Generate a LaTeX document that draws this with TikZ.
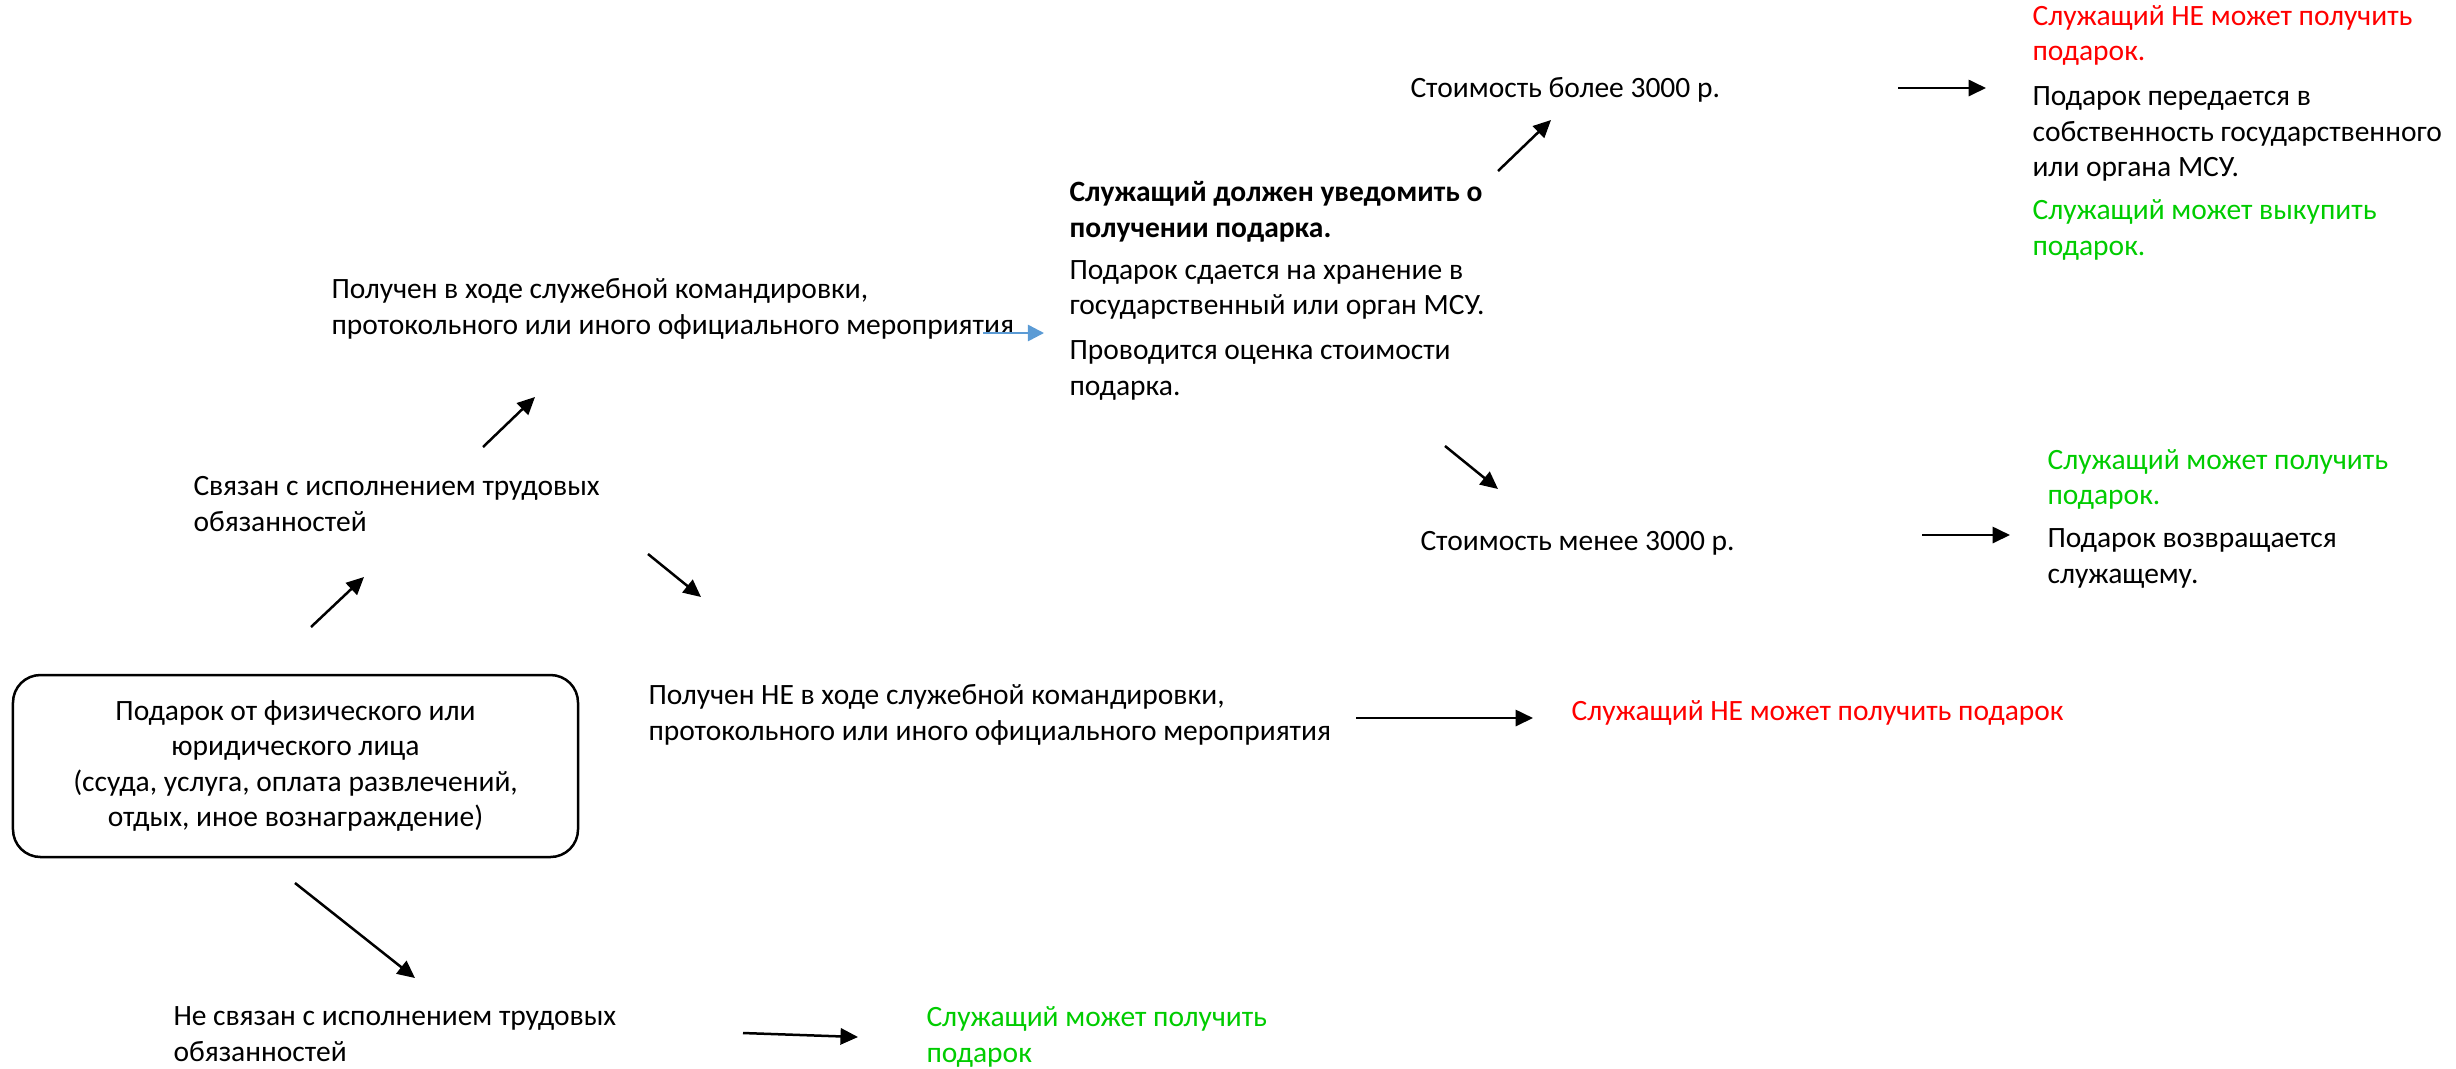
\documentclass[tikz,border=0pt]{standalone}
\usepackage{fontspec}
\setmainfont{Carlito}
\usetikzlibrary{arrows.meta}
\definecolor{redtxt}{RGB}{255,0,0}
\definecolor{greentxt}{RGB}{0,204,0}
\definecolor{bluearr}{RGB}{91,155,213}
\begin{document}
\begin{tikzpicture}[x=0.4pt,y=-0.4pt,
  txt/.style={anchor=base west, inner sep=0pt, align=left, font=\fontsize{11.8pt}{14.2pt}\selectfont},
  arr/.style={line width=1pt, -{Triangle[length=7pt,width=6.5pt]}},
  barr/.style={line width=1pt, draw=bluearr, -{Triangle[length=6.5pt,width=6.5pt]}}
]
\useasboundingbox (0,0) rectangle (2456,1068);

% main box
\node[draw, rounded corners=11pt, line width=1pt, minimum width=226pt, minimum height=72.8pt,
      align=center, inner sep=0pt, font=\fontsize{11.8pt}{14.2pt}\selectfont] (gift) at (295.5,766)
  {Подарок от физического или\\юридического лица\\(ссуда, услуга, оплата развлечений,\\отдых, иное вознаграждение)};

% text nodes (anchored at the baseline of their last line)
\node[txt] (svyaz) at (193,531) {Связан с исполнением трудовых\\обязанностей};
\node[txt] (nesvyaz) at (173,1061) {Не связан с исполнением трудовых\\обязанностей};
\node[txt] (poluch) at (331,334) {Получен в ходе служебной командировки,\\протокольного или иного официального мероприятия};
\node[txt] (poluchne) at (648,740) {Получен НЕ в ходе служебной командировки,\\протокольного или иного официального мероприятия};
\node[txt, text=redtxt] (nelzya) at (1571,720) {Служащий НЕ может получить подарок};
\node[txt, text=greentxt] (mozhno) at (926,1062) {Служащий может получить\\подарок};
\node[txt] (uved) at (1069,395) {\textbf{Служащий должен уведомить о}\\\textbf{получении подарка.}\\[2.6pt]
  Подарок сдается на хранение в\\государственный или орган МСУ.\\[3.8pt]
  Проводится оценка стоимости\\подарка.};
\node[txt] (bolee) at (1410,97) {Стоимость более 3000 р.};
\node[txt] (menee) at (1420,550) {Стоимость менее 3000 р.};
\node[txt] (rtop) at (2032,255) {\textcolor{redtxt}{Служащий НЕ может получить}\\\textcolor{redtxt}{подарок.}\\[3.8pt]
  Подарок передается в\\собственность государственного\\или органа МСУ.\\[3pt]
  \textcolor{greentxt}{Служащий может выкупить}\\\textcolor{greentxt}{подарок.}};
\node[txt] (rmid) at (2047,583) {\textcolor{greentxt}{Служащий может получить}\\\textcolor{greentxt}{подарок.}\\[3pt]
  Подарок возвращается\\служащему.};

% arrow end points
\coordinate (a1s) at (311,627);  \coordinate (a1e) at (364,577);
\coordinate (a2s) at (483,447);  \coordinate (a2e) at (535,397);
\coordinate (a3s) at (648,554);  \coordinate (a3e) at (701,597);
\coordinate (a4s) at (295,883);  \coordinate (a4e) at (415,978);
\coordinate (a5s) at (743,1033); \coordinate (a5e) at (858,1037);
\coordinate (a6s) at (1356,718); \coordinate (a6e) at (1533,718);
\coordinate (a7s) at (983,333);  \coordinate (a7e) at (1044,333);
\coordinate (a8s) at (1498,171); \coordinate (a8e) at (1551,120);
\coordinate (a9s) at (1445,446); \coordinate (a9e) at (1498,489);
\coordinate (a10s) at (1898,88); \coordinate (a10e) at (1986,88);
\coordinate (a11s) at (1922,535); \coordinate (a11e) at (2010,535);

\draw[arr] (a1s) -- (a1e);
\draw[arr] (a2s) -- (a2e);
\draw[arr] (a3s) -- (a3e);
\draw[arr] (a4s) -- (a4e);
\draw[arr] (a5s) -- (a5e);
\draw[arr] (a6s) -- (a6e);
\draw[barr] (a7s) -- (a7e);
\draw[arr] (a8s) -- (a8e);
\draw[arr] (a9s) -- (a9e);
\draw[arr] (a10s) -- (a10e);
\draw[arr] (a11s) -- (a11e);
\end{tikzpicture}
\end{document}
